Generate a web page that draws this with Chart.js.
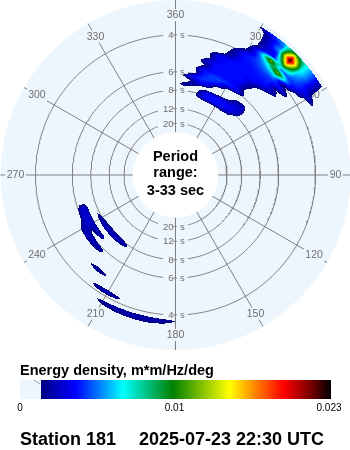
<!DOCTYPE html>
<html>
<head>
<meta charset="utf-8">
<title>Station 181 directional wave spectrum</title>
<script src="https://cdn.jsdelivr.net/npm/chart.js@4.4.1/dist/chart.umd.min.js"></script>
<style>
  html, body { margin: 0; padding: 0; background: #ffffff; }
  canvas { display: block; }
</style>
</head>
<body>
<canvas id="spectrum" width="350" height="450"></canvas>
<script>
// Directional wave spectrum on a polar grid: compass direction (degrees,
// clockwise from north) around the disc, wave frequency outward. The radius
// grows linearly with frequency, so period rings crowd towards the centre.

const STATION = 'Station 181';
const TIMESTAMP = '2025-07-23 22:30 UTC';
const PERIOD_RANGE = [3, 33];                       // s
const PERIOD_RINGS = [4, 6, 8, 12, 20];             // s
const DIRECTION_SPOKES = [0, 30, 60, 90, 120, 150, 180, 210, 240, 270, 300, 330];
const DIRECTION_LABELS = ['360', '30', '60', '90', '120', '150', '180', '210', '240', '270', '300', '330'];
const COLORBAR_TITLE = 'Energy density, m*m/Hz/deg';
const COLORBAR_TICKS = ['0', '0.01', '0.023'];
const ENERGY_MAX = 0.023;        // m*m/Hz/deg, top of the colour bar
const ENERGY_SHOWN = 0.00155;    // lowest contour that is filled
const ENERGY_UNIT = 1e-3;        // grids below are in 10^-3 m*m/Hz/deg

// North-east sector: direction columns (deg), frequency rows (Hz)
const neDirs = [0, 5, 10, 15, 20, 25, 30, 35, 40, 45, 50, 55, 60, 65, 70];
const neFreqs = [0.11, 0.12, 0.13, 0.14, 0.15, 0.16, 0.17, 0.18, 0.19, 0.20, 0.21,
                 0.22, 0.23, 0.24, 0.25, 0.26, 0.27, 0.28, 0.29, 0.30, 0.31, 0.32];
const neEnergy = [
  [0,   0,   0,   0,   0.5, 0.8, 1.0, 1.2, 0.8, 0,    0,   0,   0,   0,   0],
  [0,   0,   0,   1.9, 3.8, 4.2, 4.2, 3.8, 3.2, 1.0,  0,   0,   0,   0,   0],
  [0,   0,   0,   1.5, 3.8, 4.2, 4.2, 4.2, 3.8, 3.0,  0,   0,   0,   0,   0],
  [0.8, 2.4, 2.2, 1.0, 0.6, 0.6, 1.0, 1.8, 3.4, 3.4,  0,   0,   0,   0,   0],
  [0,   0.3, 2.0, 4.2, 3.5, 0.6, 0.3, 0.3, 2.0, 2.4,  0,   0,   0,   0,   0],
  [0.3, 1.8, 4.2, 4.8, 4.8, 4.2, 1.8, 0.8, 0.5, 0.3,  0,   0,   0,   0,   0],
  [0,   0,   0.5, 4.2, 5.0, 5.0, 4.5, 4.2, 2.0, 0.3,  0,   0,   0,   0,   0],
  [0,   0,   1.2, 4.2, 4.2, 4.2, 4.2, 3.5, 1.0, 0,    0,   0,   0,   0,   0],
  [0,   0,   0.2, 1.6, 4.2, 4.2, 4.2, 4.2, 1.8, 0,    0,   0,   0,   0,   0],
  [0,   0,   0.5, 3.0, 4.2, 4.2, 4.2, 4.2, 2.5, 0.3,  0,   0,   0,   0,   0],
  [0,   0,   0,   0.8, 3.5, 4.2, 4.2, 4.2, 4.2, 2.5,  0.5, 0,   0,   0,   0],
  [0,   0,   0,   1.1, 3.8, 4.2, 4.2, 4.2, 4.2, 4.2,  2.5, 0.3, 0,   0,   0],
  [0,   0,   0,   0,   0.8, 2.5, 4.2, 4.2, 4.5, 4.5,  1.6, 0.5, 0,   0,   0],
  [0,   0,   0,   0,   0.5, 2.0, 4.2, 4.5, 5.0, 4.8,  4.2, 1.6, 0,   0,   0],
  [0,   0,   0,   0,   0.3, 1.6, 4.2, 4.8, 6.0, 7.0,  1.8, 0.6, 0,   0,   0],
  [0,   0,   0,   0,   0,   0.2, 1.9, 5.0, 8.0, 13.5, 6.0, 1.7, 0.5, 0,   0],
  [0,   0,   0,   0,   0,   0,   1.5, 6.0, 13.5, 5.5, 5.0, 4.2, 0.8, 0,   0],
  [0,   0,   0,   0,   0,   0,   0.3, 3.2, 4.2, 11.0, 6.0, 4.5, 3.2, 0.8, 0],
  [0,   0,   0,   0,   0,   0,   0.3, 3.0, 4.5, 18.0, 7.0, 4.5, 1.5, 0,   0],
  [0,   0,   0,   0,   0,   0,   0.3, 3.0, 6.5, 23.0, 8.0, 4.8, 1.2, 0,   0],
  [0,   0,   0,   0,   0,   0,   0.5, 3.2, 5.5, 18.0, 8.0, 4.8, 1.0, 0,   0],
  [0,   0,   0,   0,   0,   0,   1.8, 4.5, 6.5, 11.0, 8.0, 4.8, 0.5, 0,   0]
];

// South-west sector: thin low-energy ridges
const swDirs = [175, 180, 185, 190, 195, 200, 205, 210, 215, 220, 225, 230, 235, 240, 245, 250, 255];
const swFreqs = [0.11, 0.13, 0.14, 0.15, 0.161, 0.172, 0.19, 0.21, 0.2275, 0.241, 0.2525, 0.264, 0.285];
const swEnergy = [
  [0, 0,   0,   0,   0,   0,   0,   0,   0,   0,   0,   0,   0,   0,   0,   0,   0],
  [0, 0,   0,   0,   0,   0,   0,   0,   2.0, 2.8, 3.0, 3.0, 2.8, 2.3, 1.4, 0,   0],
  [0, 0,   0,   0,   0,   0,   0,   0,   0,   0,   0,   0,   0,   0,   0,   0,   0],
  [0, 0,   0,   0,   0,   0,   0,   0,   0,   0,   0,   2.6, 2.9, 3.0, 3.2, 3.0, 0],
  [0, 0,   0,   0,   0,   0,   0,   0,   0,   0,   0,   0.5, 1.2, 3.0, 3.2, 3.0, 0],
  [0, 0,   0,   0,   0,   0,   0,   0,   0,   0,   2.4, 2.9, 3.0, 2.6, 1.0, 0.5, 0],
  [0, 0,   0,   0,   0,   0,   0,   0,   0,   0,   0,   0,   0,   0,   0,   0,   0],
  [0, 0,   0,   0,   0,   0,   0,   0,   1.8, 2.1, 1.4, 0,   0,   0,   0,   0,   0],
  [0, 0,   0,   0,   0,   0,   0,   0,   0,   0,   0,   0,   0,   0,   0,   0,   0],
  [0, 0,   0,   0,   0,   0,   2.0, 2.7, 2.4, 0.8, 0,   0,   0,   0,   0,   0,   0],
  [0, 0,   0,   0,   0,   0,   0,   0,   0,   0,   0,   0,   0,   0,   0,   0,   0],
  [0, 1.6, 2.3, 2.6, 2.7, 2.6, 2.4, 2.1, 1.0, 0,   0,   0,   0,   0,   0,   0,   0],
  [0, 0,   0,   0,   0,   0,   0,   0,   0,   0,   0,   0,   0,   0,   0,   0,   0]
];

// Colour scale (energy in m*m/Hz/deg -> rgb)
const COLOR_STOPS = [
  [0.00155, [0, 0, 128]],
  [0.0041,  [0, 0, 255]],
  [0.0059,  [0, 128, 255]],
  [0.0076,  [0, 255, 255]],
  [0.0113,  [0, 128, 0]],
  [0.0155,  [255, 255, 0]],
  [0.0172,  [255, 144, 0]],
  [0.0195,  [255, 0, 0]],
  [0.0214,  [128, 0, 0]],
  [0.023,   [0, 0, 0]]
];

// Radial axis: rho = F_OFFSET + frequency (Hz); scale limits in the same units
const F_OFFSET = 0.0664;
const X_MIN = -0.3966, X_MAX = 0.3944, Y_LIM = 0.3955;

const DISC_BG = '#EEF6FD';
const GRID = '#808080';
const LABEL = '#6e6e6e';
const FONT = '"Liberation Sans", Arial, Helvetica, sans-serif';

const rhoOfPeriod = T => F_OFFSET + 1 / T;
const polar = (dirDeg, rho) => {
  const a = dirDeg * Math.PI / 180;
  return { x: rho * Math.sin(a), y: rho * Math.cos(a) };
};

function sampleGrid(dirs, freqs, grid, dir, f) {
  const nd = dirs.length, nf = freqs.length;
  if (dir < dirs[0] || dir > dirs[nd - 1] || f < freqs[0] || f > freqs[nf - 1]) return 0;
  let i = 0; while (i < nd - 2 && dir > dirs[i + 1]) i++;
  let j = 0; while (j < nf - 2 && f > freqs[j + 1]) j++;
  const tx = (dir - dirs[i]) / (dirs[i + 1] - dirs[i]);
  const ty = (f - freqs[j]) / (freqs[j + 1] - freqs[j]);
  const a = grid[j][i], b = grid[j][i + 1], c = grid[j + 1][i], d = grid[j + 1][i + 1];
  return (a * (1 - tx) + b * tx) * (1 - ty) + (c * (1 - tx) + d * tx) * ty;
}

function energyColor(e) {
  const s = COLOR_STOPS;
  if (e <= s[0][0]) return s[0][1];
  for (let k = 1; k < s.length; k++) {
    if (e <= s[k][0]) {
      const t = (e - s[k - 1][0]) / (s[k][0] - s[k - 1][0]);
      const p = s[k - 1][1], q = s[k][1];
      return [0, 1, 2].map(n => Math.round(p[n] + (q[n] - p[n]) * t));
    }
  }
  return s[s.length - 1][1];
}

const lineStyle = { showLine: true, pointRadius: 0, pointHitRadius: 0, borderColor: GRID,
                    borderWidth: 1, fill: false, tension: 0 };

const ringDatasets = PERIOD_RINGS.map(T => Object.assign({
  label: T + ' s',
  data: Array.from({ length: 361 }, (_, d) => polar(d, rhoOfPeriod(T)))
}, lineStyle));

const spokeDatasets = DIRECTION_SPOKES.map(d => Object.assign({
  label: d + '°',
  data: [polar(d, 0), polar(d, Y_LIM)]
}, lineStyle));

const polarDecor = {
  id: 'polarDecor',
  beforeDatasetsDraw(chart) {
    const { ctx, scales: { x, y } } = chart;
    const cx = x.getPixelForValue(0), cy = y.getPixelForValue(0);
    const r = y.getPixelForValue(0) - y.getPixelForValue(Y_LIM);
    ctx.save();
    ctx.fillStyle = DISC_BG;
    ctx.beginPath(); ctx.arc(cx, cy, r, 0, Math.PI * 2); ctx.fill();
    ctx.restore();
  },
  afterDatasetsDraw(chart) {
    const { ctx, scales: { x, y }, chartArea } = chart;
    const cx = x.getPixelForValue(0), cy = y.getPixelForValue(0);
    ctx.save();

    // period labels on the 0 and 180 degree spokes
    ctx.font = '9.5px ' + FONT;
    ctx.textBaseline = 'middle';
    PERIOD_RINGS.forEach(T => {
      [1, -1].forEach(sign => {
        const py = y.getPixelForValue(sign * rhoOfPeriod(T));
        const num = String(T);
        const wn = ctx.measureText(num).width, ws = ctx.measureText('s').width;
        ctx.fillStyle = DISC_BG;
        ctx.fillRect(cx - 2 - wn - 5, py - 5, wn + 4.5, 10);
        ctx.fillRect(cx + 1.5, py - 5, ws + 6, 10);
        ctx.fillStyle = LABEL;
        ctx.textAlign = 'right'; ctx.fillText(num, cx - 2, py + 0.5);
        ctx.textAlign = 'left'; ctx.fillText('s', cx + 4.5, py + 0.5);
      });
    });

    // compass labels
    ctx.font = '10.5px ' + FONT;
    ctx.textAlign = 'center';
    const labelRho = 0.3616;
    DIRECTION_SPOKES.forEach((d, k) => {
      const p = polar(d, labelRho);
      const px = x.getPixelForValue(p.x), py = y.getPixelForValue(p.y);
      const w = ctx.measureText(DIRECTION_LABELS[k]).width;
      ctx.fillStyle = DISC_BG;
      ctx.fillRect(px - w / 2 - 1.5, py - 6, w + 3, 12);
      ctx.fillStyle = LABEL;
      ctx.fillText(DIRECTION_LABELS[k], px, py + 0.5);
    });

    // spectrum, bilinear inside each direction/frequency cell
    const w = Math.round(chartArea.right - chartArea.left);
    const h = Math.round(chartArea.bottom - chartArea.top);
    const off = document.createElement('canvas');
    off.width = w; off.height = h;
    const octx = off.getContext('2d');
    const img = octx.createImageData(w, h);
    for (let py = 0; py < h; py++) {
      const yv = y.getValueForPixel(chartArea.top + py + 0.5);
      for (let px = 0; px < w; px++) {
        const xv = x.getValueForPixel(chartArea.left + px + 0.5);
        const rho = Math.hypot(xv, yv);
        if (rho > Y_LIM) continue;
        const f = rho - F_OFFSET;
        let dir = Math.atan2(xv, yv) * 180 / Math.PI;
        if (dir < 0) dir += 360;
        const e = ENERGY_UNIT * Math.max(
          sampleGrid(neDirs, neFreqs, neEnergy, dir, f),
          sampleGrid(swDirs, swFreqs, swEnergy, dir, f));
        if (e < ENERGY_SHOWN) continue;
        const c = energyColor(e);
        const o = (py * w + px) * 4;
        img.data[o] = c[0]; img.data[o + 1] = c[1]; img.data[o + 2] = c[2]; img.data[o + 3] = 255;
      }
    }
    octx.putImageData(img, 0, 0);
    ctx.drawImage(off, chartArea.left, chartArea.top);

    // inner circle: longest period shown
    const rIn = x.getPixelForValue(rhoOfPeriod(PERIOD_RANGE[1])) - cx;
    ctx.fillStyle = '#ffffff';
    ctx.beginPath(); ctx.arc(cx, cy, rIn, 0, Math.PI * 2); ctx.fill();

    ctx.fillStyle = '#000000';
    ctx.font = 'bold 14.5px ' + FONT;
    ctx.textAlign = 'center';
    ctx.textBaseline = 'alphabetic';
    ctx.fillText('Period', cx, 161);
    ctx.fillText('range:', cx, 177);
    ctx.fillText(PERIOD_RANGE[0] + '-' + PERIOD_RANGE[1] + ' sec', cx, 194.5);
    ctx.restore();
  },
  afterDraw(chart) {
    const { ctx } = chart;
    ctx.save();
    // colour bar
    const bx = 20, bw = 311, by = 380, bh = 19;
    for (let i = 0; i < bw; i++) {
      const e = (i + 0.5) / bw * ENERGY_MAX;
      if (e < ENERGY_SHOWN) { ctx.fillStyle = DISC_BG; }
      else { const c = energyColor(e); ctx.fillStyle = `rgb(${c[0]},${c[1]},${c[2]})`; }
      ctx.fillRect(bx + i, by, 1, bh);
    }
    ctx.strokeStyle = '#8090a0'; ctx.lineWidth = 0.8;
    ctx.beginPath(); ctx.moveTo(33.5, 380); ctx.lineTo(40.5, 384); ctx.stroke();

    ctx.fillStyle = '#000000';
    ctx.textBaseline = 'alphabetic';
    ctx.font = 'bold 14.5px ' + FONT;
    ctx.textAlign = 'left';
    ctx.fillText(COLORBAR_TITLE, 20, 375);

    ctx.font = '10px ' + FONT;
    ctx.textAlign = 'center';
    ctx.fillText(COLORBAR_TICKS[0], 20, 411);
    ctx.fillText(COLORBAR_TICKS[1], 174.5, 411);
    ctx.fillText(COLORBAR_TICKS[2], 329, 411);

    ctx.font = 'bold 18px ' + FONT;
    ctx.textAlign = 'left';
    ctx.fillText(STATION, 20, 445);
    ctx.fillText(TIMESTAMP, 139, 445);
    ctx.restore();
  }
};

new Chart(document.getElementById('spectrum'), {
  type: 'scatter',
  data: { datasets: [...ringDatasets, ...spokeDatasets] },
  options: {
    responsive: false,
    devicePixelRatio: 1,
    animation: false,
    events: [],
    layout: { padding: { left: 0, right: 0, top: 0, bottom: 100 } },
    scales: {
      x: { type: 'linear', min: X_MIN, max: X_MAX, display: false },
      y: { type: 'linear', min: -Y_LIM, max: Y_LIM, display: false }
    },
    plugins: { legend: { display: false }, tooltip: { enabled: false } }
  },
  plugins: [polarDecor]
});
</script>
</body>
</html>
